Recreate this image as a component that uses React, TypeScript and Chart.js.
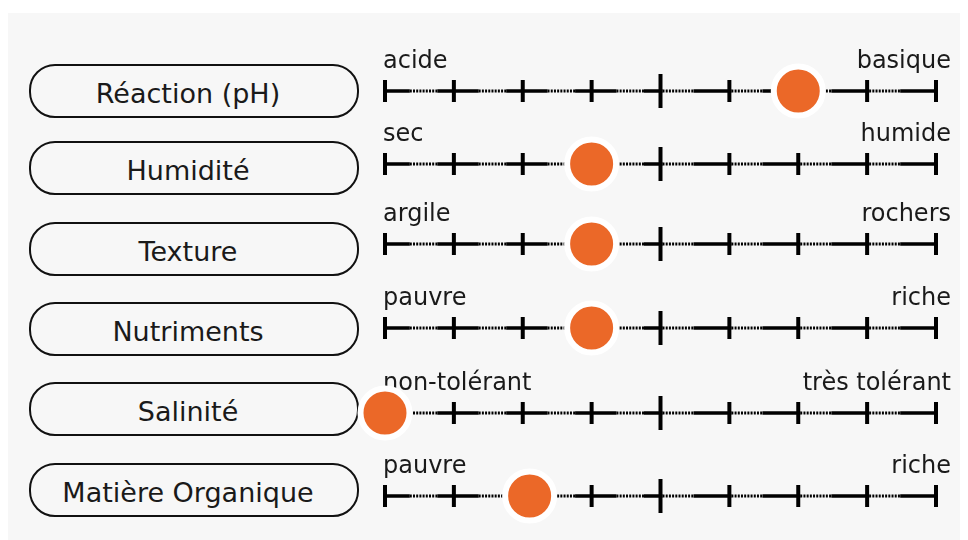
import React, { useEffect, useRef } from "react";
import { Chart, registerables } from "chart.js";

Chart.register(...registerables);

// ---- data ----
const FACTORS = ["Réaction (pH)", "Humidité", "Texture", "Nutriments", "Salinité", "Matière Organique"];
const LEFT_LABELS = ["acide", "sec", "argile", "pauvre", "non-tolérant", "pauvre"];
const RIGHT_LABELS = ["basique", "humide", "rochers", "riche", "très tolérant", "riche"];
const VALUES = [6, 3, 3, 3, 0, 2.1];
const TICK_VALUES = [0, 1, 2, 3, 4, 5, 6, 7, 8];
const MAJOR_TICK = 4;
const SCALE_MIN = 0;
const SCALE_MAX = 8;

// ---- layout (container coordinates) ----
const LINE_Y = [78, 151, 231, 315, 400, 483];
const BOX_TOP = [51, 128, 209, 289, 369, 450];
const CANVAS_LEFT = 332;
const CANVAS_W = 628;
const CANVAS_H = 110;
const ORANGE = "#eb6828";
const FONT = "'DejaVu Sans', sans-serif";

function RowChart({ idx }: { idx: number }) {
  const ref = useRef<HTMLCanvasElement | null>(null);
  useEffect(() => {
    if (!ref.current) return;
    const scalePlugin = {
      id: "scaleLine",
      beforeDatasetsDraw(chart: any) {
        const ctx = chart.ctx;
        const xs = chart.scales.x;
        const y = chart.scales.y.getPixelForValue(0);
        const x0 = xs.getPixelForValue(SCALE_MIN);
        const x1 = xs.getPixelForValue(SCALE_MAX);
        ctx.save();
        // main line with dotted middle parts
        for (let i = 0; i < TICK_VALUES.length - 1; i++) {
          const a = xs.getPixelForValue(TICK_VALUES[i]);
          const b = xs.getPixelForValue(TICK_VALUES[i + 1]);
          const w = b - a;
          const d0 = TICK_VALUES[i] >= MAJOR_TICK ? a + 2 : a + w * 0.36;
          const d1 = TICK_VALUES[i] >= MAJOR_TICK ? a + w * 0.48 : a + w * 0.76;
          ctx.strokeStyle = "#000";
          ctx.lineWidth = 3.5;
          ctx.setLineDash([]);
          ctx.beginPath();
          ctx.moveTo(a, y);
          ctx.lineTo(d0, y);
          ctx.moveTo(d1, y);
          ctx.lineTo(b, y);
          ctx.stroke();
          ctx.lineWidth = 3;
          ctx.setLineDash([2, 1.2]);
          ctx.beginPath();
          ctx.moveTo(d0, y);
          ctx.lineTo(d1, y);
          ctx.stroke();
        }
        ctx.setLineDash([]);
        // ticks
        for (const t of TICK_VALUES) {
          const x = xs.getPixelForValue(t);
          const h = t === MAJOR_TICK ? 17 : 11;
          ctx.lineWidth = 4;
          ctx.beginPath();
          ctx.moveTo(x, y - h);
          ctx.lineTo(x, y + h);
          ctx.stroke();
        }
        // end labels
        ctx.fillStyle = "#1a1a1a";
        ctx.font = "24px " + FONT;
        ctx.textBaseline = "alphabetic";
        ctx.textAlign = "left";
        ctx.fillText(LEFT_LABELS[idx], x0 - 2, y - 23);
        ctx.textAlign = "right";
        ctx.fillText(RIGHT_LABELS[idx], x1 + 15, y - 23);
        ctx.restore();
      },
    };
    const chart = new Chart(ref.current, {
      type: "scatter",
      data: {
        datasets: [
          {
            data: [{ x: VALUES[idx], y: 0 }],
            pointRadius: 24.5,
            pointBackgroundColor: ORANGE,
            pointBorderColor: "#ffffff",
            pointBorderWidth: 6,
            pointHoverRadius: 24.5,
            clip: false,
          } as any,
        ],
      },
      options: {
        animation: false,
        responsive: false,
        devicePixelRatio: 1,
        events: [],
        layout: { padding: { left: 45, right: 32, top: 0, bottom: 0 } },
        plugins: { legend: { display: false }, tooltip: { enabled: false } },
        scales: {
          x: { type: "linear", min: SCALE_MIN, max: SCALE_MAX, display: false },
          y: { type: "linear", min: -1, max: 1, display: false },
        },
      },
      plugins: [scalePlugin],
    });
    return () => chart.destroy();
  }, [idx]);
  return (
    <canvas
      ref={ref}
      width={CANVAS_W}
      height={CANVAS_H}
      style={{
        position: "absolute",
        left: CANVAS_LEFT,
        top: LINE_Y[idx] - CANVAS_H / 2,
        width: CANVAS_W,
        height: CANVAS_H,
      }}
    />
  );
}

export default function App() {
  return (
    <div
      style={{
        position: "relative",
        width: 960,
        height: 527,
        marginTop: 5,
        background: "#f7f7f7",
        overflow: "hidden",
        fontFamily: FONT,
      }}
    >
      {FACTORS.map((f, i) => (
        <div
          key={f}
          style={{
            position: "absolute",
            left: 21,
            top: BOX_TOP[i],
            width: 330,
            height: 54,
            boxSizing: "border-box",
            border: "2.5px solid #111",
            borderRadius: 26,
            display: "flex",
            alignItems: "center",
            justifyContent: "center",
            paddingRight: 12,
            paddingTop: 4,
            fontSize: 27,
            color: "#1a1a1a",
            whiteSpace: "nowrap",
          }}
        >
          {f}
        </div>
      ))}
      {FACTORS.map((f, i) => (
        <RowChart key={"c" + i} idx={i} />
      ))}
    </div>
  );
}
